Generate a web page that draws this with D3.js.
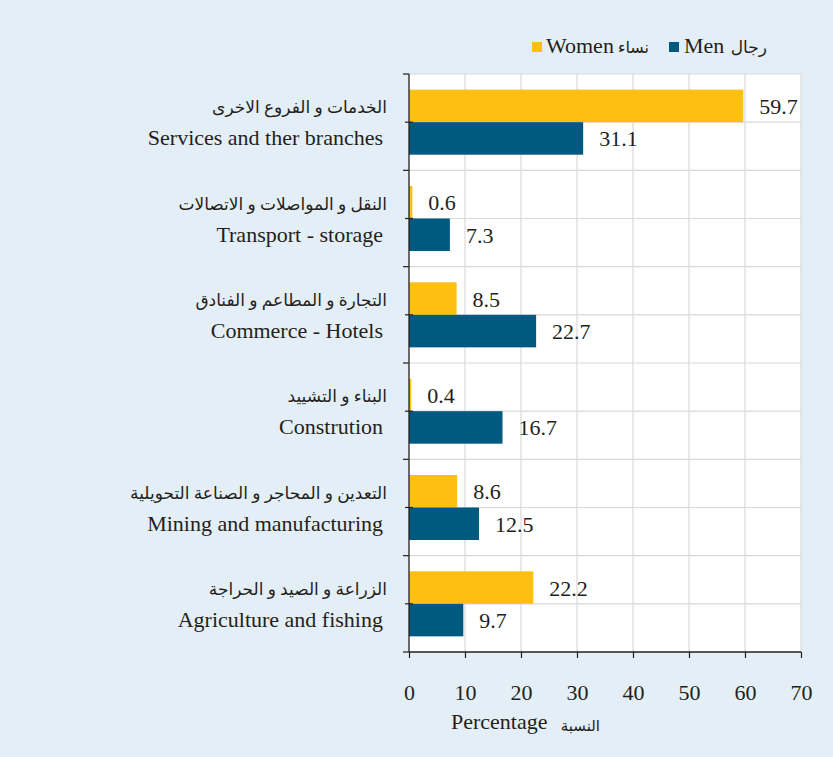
<!DOCTYPE html>
<html>
<head>
<meta charset="utf-8">
<script src="https://cdn.jsdelivr.net/npm/d3@7"></script>
<style>
  body { margin: 0; background: #e4eef6; }
  svg text { font-family: "Liberation Serif", "DejaVu Sans", serif; fill: #231f20; }
</style>
</head>
<body>
<div id="chart"></div>
<script>
// categories, top to bottom
var sectorsEn = ["Services and ther branches", "Transport - storage", "Commerce - Hotels",
                 "Constrution", "Mining and manufacturing", "Agriculture and fishing"];
var sectorsAr = ["الخدمات و الفروع الاخرى", "النقل و المواصلات و الاتصالات", "التجارة و المطاعم و الفنادق",
                 "البناء و التشييد", "التعدين و المحاجر و الصناعة التحويلية", "الزراعة و الصيد و الحراجة"];
var women = [59.7, 0.6, 8.5, 0.4, 8.6, 22.2];
var men = [31.1, 7.3, 22.7, 16.7, 12.5, 9.7];
var xTicks = [0, 10, 20, 30, 40, 50, 60, 70];

var width = 833, height = 757;
var margin = {top: 74, right: 32, bottom: 105, left: 409};
var yellow = "#fdc010", blue = "#005a7f", grid = "#d9d9d9";

var svg = d3.select("#chart").append("svg")
  .attr("width", width)
  .attr("height", height);

svg.append("rect").attr("width", width).attr("height", height).attr("fill", "#e4eef6");

var x = d3.scaleLinear().domain([0, 70]).range([margin.left, width - margin.right]);
var y = d3.scaleBand().domain(sectorsEn)
  .range([margin.top, height - margin.bottom])
  .paddingInner(0.325).paddingOuter(0.1625);
var sub = d3.scaleBand().domain(["women", "men"]).range([0, y.bandwidth()]);

var step = y.step();
var y0 = margin.top, y1 = height - margin.bottom;

// plot area
svg.append("rect")
  .attr("x", x(0)).attr("y", y0)
  .attr("width", x(70) - x(0)).attr("height", y1 - y0)
  .attr("fill", "#fff");

// vertical grid
svg.selectAll(".vgrid").data(xTicks.slice(1))
  .enter().append("line")
  .attr("x1", function(d) { return x(d); }).attr("x2", function(d) { return x(d); })
  .attr("y1", y0).attr("y2", y1)
  .attr("stroke", grid).attr("stroke-width", 1.2);

// horizontal grid at band edges and centres
var hLines = [];
sectorsEn.forEach(function(s, i) {
  hLines.push(y0 + i * step);
  hLines.push(y0 + (i + 0.5) * step);
});
svg.selectAll(".hgrid").data(hLines)
  .enter().append("line")
  .attr("x1", x(0)).attr("x2", x(70))
  .attr("y1", function(d) { return d; }).attr("y2", function(d) { return d; })
  .attr("stroke", grid).attr("stroke-width", 1.2);

// bars
var g = svg.selectAll(".cat").data(sectorsEn).enter().append("g")
  .attr("transform", function(d) { return "translate(0," + y(d) + ")"; });

g.append("rect")
  .attr("x", x(0))
  .attr("y", sub("women"))
  .attr("width", function(d, i) { return x(women[i]) - x(0); })
  .attr("height", sub.bandwidth())
  .attr("fill", yellow);

g.append("rect")
  .attr("x", x(0))
  .attr("y", sub("men"))
  .attr("width", function(d, i) { return x(men[i]) - x(0); })
  .attr("height", sub.bandwidth())
  .attr("fill", blue);

// value labels
g.append("text")
  .attr("x", function(d, i) { return x(women[i]) + 16; })
  .attr("y", sub("women") + sub.bandwidth() / 2 + 8)
  .attr("font-size", 22)
  .text(function(d, i) { return women[i].toFixed(1); });

g.append("text")
  .attr("x", function(d, i) { return x(men[i]) + 16; })
  .attr("y", sub("men") + sub.bandwidth() / 2 + 8)
  .attr("font-size", 22)
  .text(function(d, i) { return men[i].toFixed(1); });

// category labels
svg.selectAll(".labAr").data(sectorsAr).enter().append("text")
  .attr("x", 387)
  .attr("y", function(d, i) { return y0 + (i + 0.5) * step - 9; })
  .attr("text-anchor", "end")
  .attr("font-size", 17)
  .text(function(d) { return d; });

svg.selectAll(".labEn").data(sectorsEn).enter().append("text")
  .attr("x", 383)
  .attr("y", function(d, i) { return y0 + (i + 0.5) * step + 23; })
  .attr("text-anchor", "end")
  .attr("font-size", 22)
  .text(function(d) { return d; });

// axes
var axisCol = "#231f20";
svg.append("line").attr("x1", x(0)).attr("x2", x(0)).attr("y1", y0).attr("y2", y1)
  .attr("stroke", axisCol).attr("stroke-width", 1.3);
svg.append("line").attr("x1", x(0)).attr("x2", x(70)).attr("y1", y1).attr("y2", y1)
  .attr("stroke", axisCol).attr("stroke-width", 1.3);

// y ticks: band edges outside, band centres crossing
svg.selectAll(".ytick").data(d3.range(sectorsEn.length + 1)).enter().append("line")
  .attr("x1", x(0) - 6).attr("x2", x(0))
  .attr("y1", function(i) { return y0 + i * step; })
  .attr("y2", function(i) { return y0 + i * step; })
  .attr("stroke", axisCol).attr("stroke-width", 1.2);
svg.selectAll(".ytick2").data(d3.range(sectorsEn.length)).enter().append("line")
  .attr("x1", x(0) - 4).attr("x2", x(0) + 4)
  .attr("y1", function(i) { return y0 + (i + 0.5) * step; })
  .attr("y2", function(i) { return y0 + (i + 0.5) * step; })
  .attr("stroke", axisCol).attr("stroke-width", 1.2);

var xAxis = svg.append("g").attr("transform", "translate(0," + y1 + ")")
  .call(d3.axisBottom(x).tickValues(xTicks).tickSize(6).tickPadding(26));
xAxis.select(".domain").remove();
xAxis.selectAll("line").attr("stroke", axisCol).attr("stroke-width", 1.2);
xAxis.selectAll("text")
  .attr("font-size", 22)
  .attr("font-family", "Liberation Serif, serif")
  .attr("fill", axisCol);

// axis title
svg.append("text").attr("x", 451).attr("y", 729).attr("font-size", 22).text("Percentage");
svg.append("text").attr("x", 600).attr("y", 731).attr("text-anchor", "end")
  .attr("font-size", 15).text("النسبة");

// legend
var legend = svg.append("g");
legend.append("rect").attr("x", 532).attr("y", 42).attr("width", 10).attr("height", 10).attr("fill", yellow);
legend.append("text").attr("x", 546).attr("y", 53).attr("font-size", 22).text("Women");
legend.append("text").attr("x", 649).attr("y", 53).attr("text-anchor", "end")
  .attr("font-size", 16).text("نساء");
legend.append("rect").attr("x", 669).attr("y", 42).attr("width", 10).attr("height", 10).attr("fill", blue);
legend.append("text").attr("x", 684).attr("y", 53).attr("font-size", 22).text("Men");
legend.append("text").attr("x", 767).attr("y", 53).attr("text-anchor", "end")
  .attr("font-size", 17).text("رجال");
</script>
</body>
</html>
